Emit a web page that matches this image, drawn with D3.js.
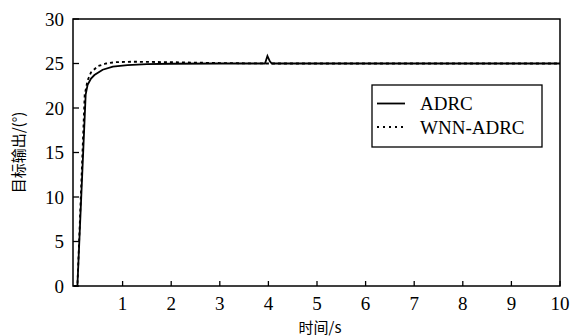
<!DOCTYPE html>
<html><head><meta charset="utf-8">
<script src="https://cdn.jsdelivr.net/npm/d3@7"></script>
</head>
<body style="margin:0">
<script>
// ---- data ----
const adrcT   = [0, 0.07, 0.24, 0.28, 0.35, 0.42, 0.59, 0.80, 1.10, 1.50, 2.00, 3.00, 3.93, 3.98, 4.03, 4.07, 10];
const adrcY   = [0, 0, 21.5, 22.6, 23.3, 23.7, 24.3, 24.65, 24.82, 24.92, 24.97, 25.0, 25.0, 25.85, 25.25, 25.0, 25.0];
const wnnT    = [0, 0.07, 0.22, 0.28, 0.35, 0.49, 0.66, 0.85, 1.20, 2.00, 3.00, 4.00, 10];
const wnnY    = [0, 0, 21.5, 23.1, 24.0, 24.7, 25.0, 25.15, 25.2, 25.15, 25.05, 25.0, 25.0];
const xTicks  = [1, 2, 3, 4, 5, 6, 7, 8, 9, 10];
const yTicks  = [0, 5, 10, 15, 20, 25, 30];
const seriesNames = ["ADRC", "WNN-ADRC"];
const xTitle = "时间/s";
const yTitle = "目标输出/(°)";

const W = 575, H = 336;
const L = 74, R = 560, T = 19, B = 286;

const svg = d3.select("body").append("svg").attr("width", W).attr("height", H)
  .style("display", "block").attr("font-family", "Liberation Serif");
const x = d3.scaleLinear().domain([0, 10]).range([L, R]);
const y = d3.scaleLinear().domain([0, 30]).range([B, T]);

// frame
svg.append("rect").attr("x", L - 1).attr("y", T).attr("width", R - L + 1).attr("height", B - T)
  .attr("fill", "none").attr("stroke", "#000").attr("stroke-width", 1.5);

// x axis ticks (inward) and labels
const xa = svg.append("g");
xa.selectAll("line").data(xTicks).join("line")
  .attr("x1", d => x(d)).attr("x2", d => x(d)).attr("y1", B).attr("y2", B - 5)
  .attr("stroke", "#000").attr("stroke-width", 1.3);
xa.selectAll("text").data(xTicks).join("text")
  .attr("x", d => x(d)).attr("y", B + 24).attr("text-anchor", "middle")
  .attr("font-family", "Liberation Serif").attr("font-size", 19).text(d => d);

// y axis ticks (inward) and labels
const ya = svg.append("g");
ya.selectAll("line").data(yTicks).join("line")
  .attr("x1", L - 1).attr("x2", L + 5).attr("y1", d => y(d)).attr("y2", d => y(d))
  .attr("stroke", "#000").attr("stroke-width", 1.3);
ya.selectAll("text").data(yTicks).join("text")
  .attr("x", L - 10).attr("y", d => y(d) + 6.5).attr("text-anchor", "end")
  .attr("font-family", "Liberation Serif").attr("font-size", 19).text(d => d);

const line = d3.line().x(d => x(d[0])).y(d => y(d[1]));
const adrc = adrcT.map((t, i) => [t, adrcY[i]]);
const wnn = wnnT.map((t, i) => [t, wnnY[i]]);

svg.append("path").datum(adrc).attr("d", line).attr("fill", "none")
  .attr("stroke", "#000").attr("stroke-width", 1.8);
svg.append("path").datum(wnn).attr("d", line).attr("fill", "none")
  .attr("stroke", "#000").attr("stroke-width", 1.8).attr("stroke-dasharray", "3,3");

// legend
const lg = svg.append("g");
lg.append("rect").attr("x", 372).attr("y", 85).attr("width", 170).attr("height", 62)
  .attr("fill", "#fff").attr("stroke", "#000").attr("stroke-width", 1.3);
const rows = [{y: 103.5, dash: null}, {y: 127, dash: "2,4"}];
rows.forEach((r, i) => {
  lg.append("line").attr("x1", 377).attr("x2", 405).attr("y1", r.y).attr("y2", r.y)
    .attr("stroke", "#000").attr("stroke-width", 1.8).attr("stroke-dasharray", r.dash);
  lg.append("text").attr("x", 420).attr("y", r.y + 6.5)
    .attr("font-family", "Liberation Serif").attr("font-size", 19).text(seriesNames[i]);
});

// axis titles
svg.append("text").attr("x", 320).attr("y", 333).attr("text-anchor", "middle")
  .attr("font-family", "Noto Sans CJK SC").attr("font-size", 15).text(xTitle);
svg.append("text").attr("transform", `translate(24,${(T + B) / 2}) rotate(-90)`)
  .attr("text-anchor", "middle").attr("font-family", "Noto Sans CJK SC").attr("font-size", 15).text(yTitle);
</script>
</body></html>
